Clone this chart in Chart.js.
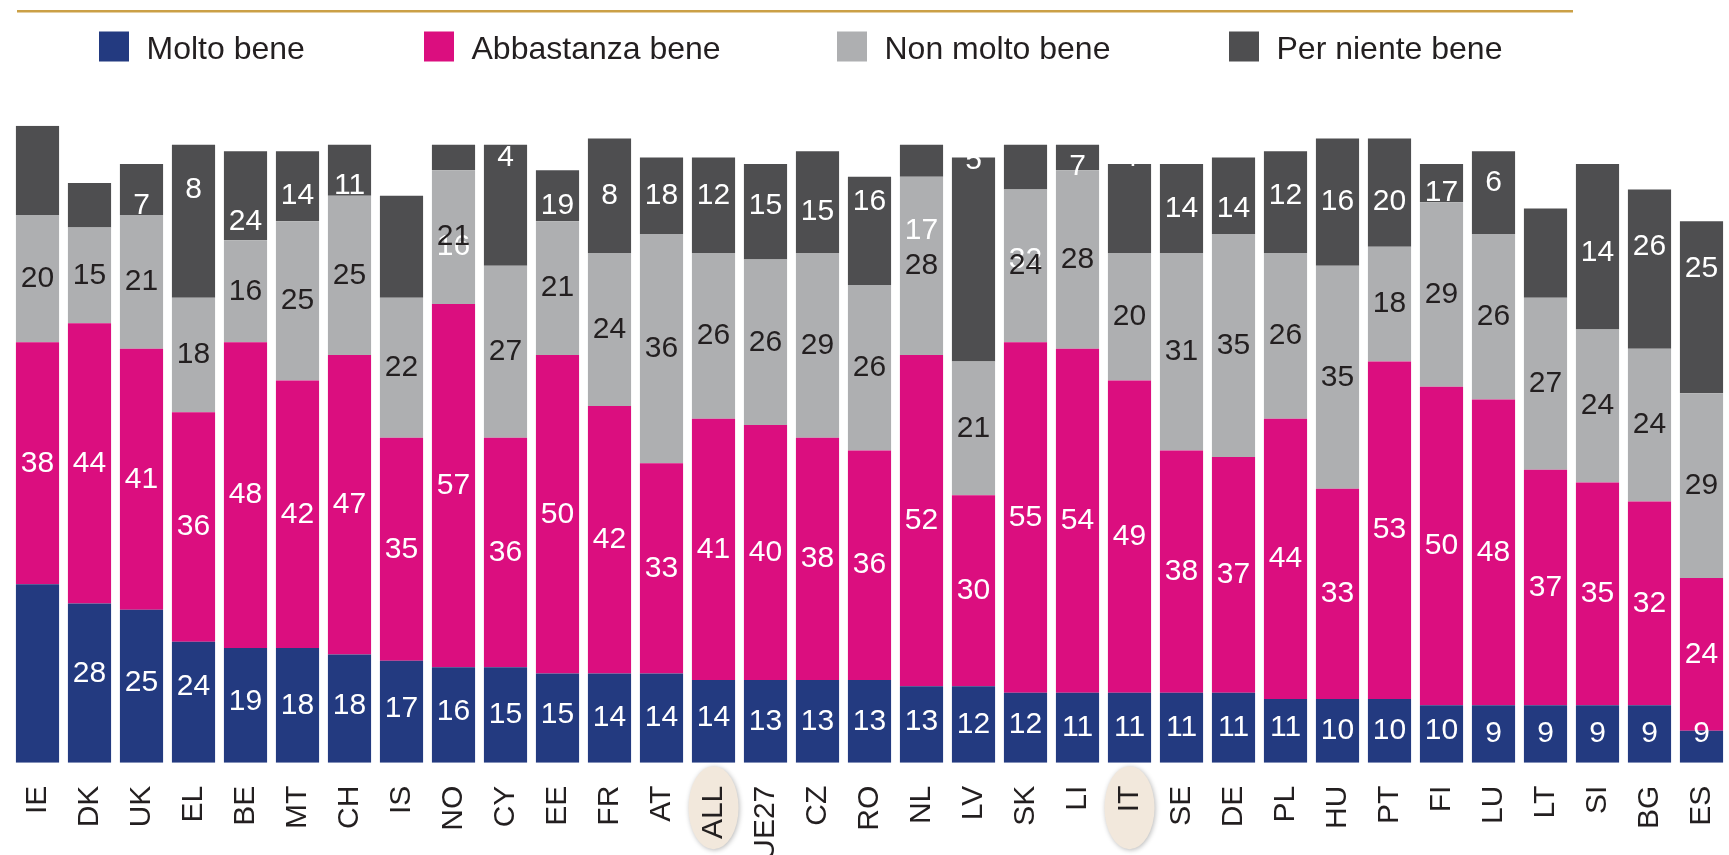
<!DOCTYPE html>
<html><head><meta charset="utf-8">
<script src="https://cdn.jsdelivr.net/npm/chart.js@4.4.1/dist/chart.umd.min.js"></script>
<style>html,body{margin:0;padding:0;background:#fff;overflow:hidden}#wrap{position:relative;width:1729px;height:855px}</style>
</head><body><div id="wrap"><canvas id="c" width="1729" height="855"></canvas></div>
<script>
const categories = ['IE','DK','UK','EL','BE','MT','CH','IS','NO','CY','EE','FR','AT','ALL','UE27','CZ','RO','NL','LV','SK','LI','IT','SE','DE','PL','HU','PT','FI','LU','LT','SI','BG','ES'];
const seriesNames = ['Molto bene','Abbastanza bene','Non molto bene','Per niente bene'];
const moltoBene     = [28,25,24,19,18,18,17,16,15,15,14,14,14,13,13,13,13,12,12,11,11,11,11,11,10,10,10,9,9,9,9,9,5];
const abbastanza    = [38,44,41,36,48,42,47,35,57,36,50,42,33,41,40,38,36,52,30,55,54,49,38,37,44,33,53,50,48,37,35,32,24];
const nonMolto      = [20,15,21,18,16,25,25,22,21,27,21,24,36,26,26,29,26,28,21,24,28,20,31,35,26,35,18,29,26,27,24,24,29];
const perNiente     = [14,7,8,24,14,11,8,16,4,19,8,18,12,15,15,16,17,5,32,7,4,14,14,12,16,20,17,6,13,14,26,25,27];
const highlighted   = ['ALL','IT'];

const FONT = '"Liberation Sans", Arial, Helvetica, sans-serif';
const COLORS = ['#233A80','#DB0E7F','#AEAFB1','#4E4E50'];
const LABEL_COLORS = ['#FFFFFF','#FFFFFF','#231F20','#FFFFFF'];
// in the reference, labels of the first and last series are drawn one column to the right
const SHIFTED = [true,false,false,true];
const TEXT = '#231F20';

const labelPlugin = {
  id:'segLabels',
  afterDatasetsDraw(chart){
    const ctx = chart.ctx;
    ctx.save();
    ctx.font = '30px ' + FONT;
    ctx.textAlign = 'center';
    ctx.textBaseline = 'middle';
    const order = [3,0,1,2];
    for (const di of order){
      const meta = chart.getDatasetMeta(di);
      const data = chart.data.datasets[di].data;
      ctx.fillStyle = LABEL_COLORS[di];
      meta.data.forEach((el,i)=>{
        const tx = SHIFTED[di] ? i+1 : i;
        if (tx >= meta.data.length) return;
        const x = meta.data[tx].x;
        const y = (el.y + el.base)/2;
        ctx.fillText(String(data[i]), x, y);
      });
    }
    ctx.restore();
  }
};

const decoPlugin = {
  id:'deco',
  beforeDraw(chart){
    const ctx = chart.ctx;
    const xs = chart.scales.x;
    ctx.save();
    ctx.fillStyle = '#ffffff';
    ctx.fillRect(0,0,chart.width,chart.height);
    highlighted.forEach(h=>{
      const i = categories.indexOf(h);
      const x = xs.getPixelForValue(i);
      ctx.save();
      ctx.shadowColor = 'rgba(0,0,0,0.28)';
      ctx.shadowBlur = 5;
      ctx.shadowOffsetX = 1;
      ctx.shadowOffsetY = 1;
      ctx.fillStyle = '#F2E8DC';
      ctx.beginPath();
      ctx.ellipse(x, chart.chartArea.bottom + 45, 25, 41.5, 0, 0, Math.PI*2);
      ctx.fill();
      ctx.restore();
    });
    ctx.restore();
  },
  afterDraw(chart){
    const ctx = chart.ctx;
    ctx.save();
    // gold rule
    ctx.fillStyle = '#CBA046';
    ctx.fillRect(17, 10, 1556, 2.5);
    // legend
    const sq = [99, 424, 837, 1229];
    ctx.font = '32px ' + FONT;
    ctx.textBaseline = 'alphabetic';
    ctx.textAlign = 'left';
    seriesNames.forEach((n,k)=>{
      ctx.fillStyle = COLORS[k];
      ctx.fillRect(sq[k], 31.5, 30, 30);
      ctx.fillStyle = TEXT;
      ctx.fillText(n, sq[k] + 47.5, 58.5);
    });
    ctx.restore();
  }
};

new Chart(document.getElementById('c'), {
  type:'bar',
  data:{
    labels: categories,
    datasets:[
      {label:seriesNames[0], data:moltoBene,  backgroundColor:COLORS[0]},
      {label:seriesNames[1], data:abbastanza, backgroundColor:COLORS[1]},
      {label:seriesNames[2], data:nonMolto,   backgroundColor:COLORS[2]},
      {label:seriesNames[3], data:perNiente,  backgroundColor:COLORS[3]}
    ]
  },
  options:{
    responsive:false,
    animation:false,
    layout:{padding:{top:125.7,left:11.5,right:1.5,bottom:0}},
    datasets:{bar:{categoryPercentage:1, barPercentage:0.83, borderWidth:0}},
    plugins:{legend:{display:false}, tooltip:{enabled:false}, title:{display:false}},
    scales:{
      x:{
        stacked:true,
        grid:{display:false},
        border:{display:false},
        ticks:{autoSkip:false, minRotation:90, maxRotation:90, padding:15, color:TEXT,
               font:{family:FONT, size:30}},
        afterFit(s){ s.height = 92.3; s.paddingLeft = 0; s.paddingRight = 0; }
      },
      y:{stacked:true, display:false, min:0, max:100}
    }
  },
  plugins:[decoPlugin, labelPlugin]
});
</script>
</body></html>
